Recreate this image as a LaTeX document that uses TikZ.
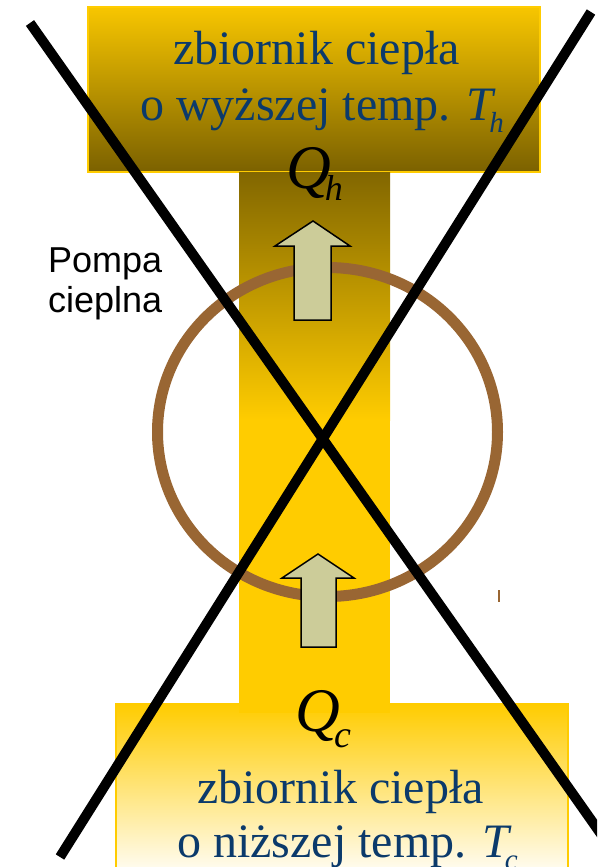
\documentclass[tikz,border=0pt]{standalone}
\usepackage{fontspec}
\setmainfont{Liberation Serif}
\newfontfamily\arialfont{Liberation Sans}
\definecolor{txtblue}{HTML}{0B3A6B}
\definecolor{gold}{HTML}{FFCC00}
\definecolor{darkgold}{HTML}{7B6100}
\definecolor{ringbrown}{HTML}{996633}
\definecolor{arrowfill}{HTML}{CCCC99}
\begin{document}
\begin{tikzpicture}[x=1pt,y=-1pt,
  reservoirtext/.style={text=txtblue,font=\fontsize{48}{55}\selectfont,inner sep=0pt},
  qtext/.style={font=\fontsize{62}{62}\selectfont\itshape,inner sep=0pt},
  pumptext/.style={font=\arialfont\fontsize{36}{40}\selectfont,inner sep=0pt},
  flowarrow/.style={fill=arrowfill,draw=black,line width=1.5pt,line join=miter},
  crossline/.style={line width=10pt,black},
  ring/.style={draw=ringbrown,line width=11pt}]
\useasboundingbox (0,0) rectangle (597,867);
\clip (0,0) rectangle (597,867);
% hot reservoir
\node[draw=gold,line width=1.5pt,top color=gold!97!black,bottom color=darkgold,
  minimum width=452pt,minimum height=165pt,inner sep=0pt] (hot) at (314,89.5) {};
% bottom reservoir
\node[draw=gold,line width=1.5pt,top color=gold,bottom color=white,
  minimum width=452pt,minimum height=176pt,inner sep=0pt] (cold) at (342,792) {};
% column
\node[top color=darkgold!95!gold,bottom color=gold,minimum width=151pt,minimum height=248pt,inner sep=0pt] (colup) at (314.5,296) {};
\node[fill=gold,minimum width=151pt,minimum height=293pt,inner sep=0pt] (coldown) at (314.5,566.5) {};
% texts
\node[reservoirtext,anchor=base west] (h1) at (173,65) {zbiornik ciepła};
\node[reservoirtext,anchor=base west] (h2) at (140,120) {o wyższej temp. \textit{T}\kern-7pt\raisebox{-12pt}{\fontsize{29}{29}\selectfont\itshape h}};
\node[reservoirtext,anchor=base west] (c1) at (197,803) {zbiornik ciepła};
\node[reservoirtext,anchor=base west] (c2) at (177,857) {o niższej temp. \textit{T}\kern-7pt\raisebox{-12pt}{\fontsize{29}{29}\selectfont\itshape c}};
\node[qtext,anchor=base west] (qh) at (286,188) {Q\kern-6pt\raisebox{-12pt}{\fontsize{36}{36}\selectfont\itshape h}};
\node[qtext,anchor=base west] (qc) at (295,731) {Q\kern-5pt\raisebox{-16pt}{\fontsize{38}{38}\selectfont\itshape c}};
\node[pumptext,anchor=base west] (p1) at (48,272) {Pompa};
\node[pumptext,anchor=base west] (p2) at (48,312) {cieplna};
% pump ring
\draw[ring] (327.5,432) ellipse [x radius=170, y radius=164.5];
\draw[ringbrown,line width=1.5pt] (499,590) -- (499,602);
% arrows
\draw[flowarrow] (313,221) -- (350,246) -- (331,246) -- (331,320) -- (294,320) -- (294,246) -- (275,246) -- cycle;
\draw[flowarrow] (318,554) -- (354,578) -- (336,578) -- (336,647) -- (301,647) -- (301,578) -- (282,578) -- cycle;
% cross
\coordinate (xa1) at (30,23);
\coordinate (xa2) at (620,861);
\coordinate (xb1) at (591,12);
\coordinate (xb2) at (60,857);
\draw[crossline] (xa1) -- (xa2);
\draw[crossline] (xb1) -- (xb2);
\end{tikzpicture}
\end{document}
